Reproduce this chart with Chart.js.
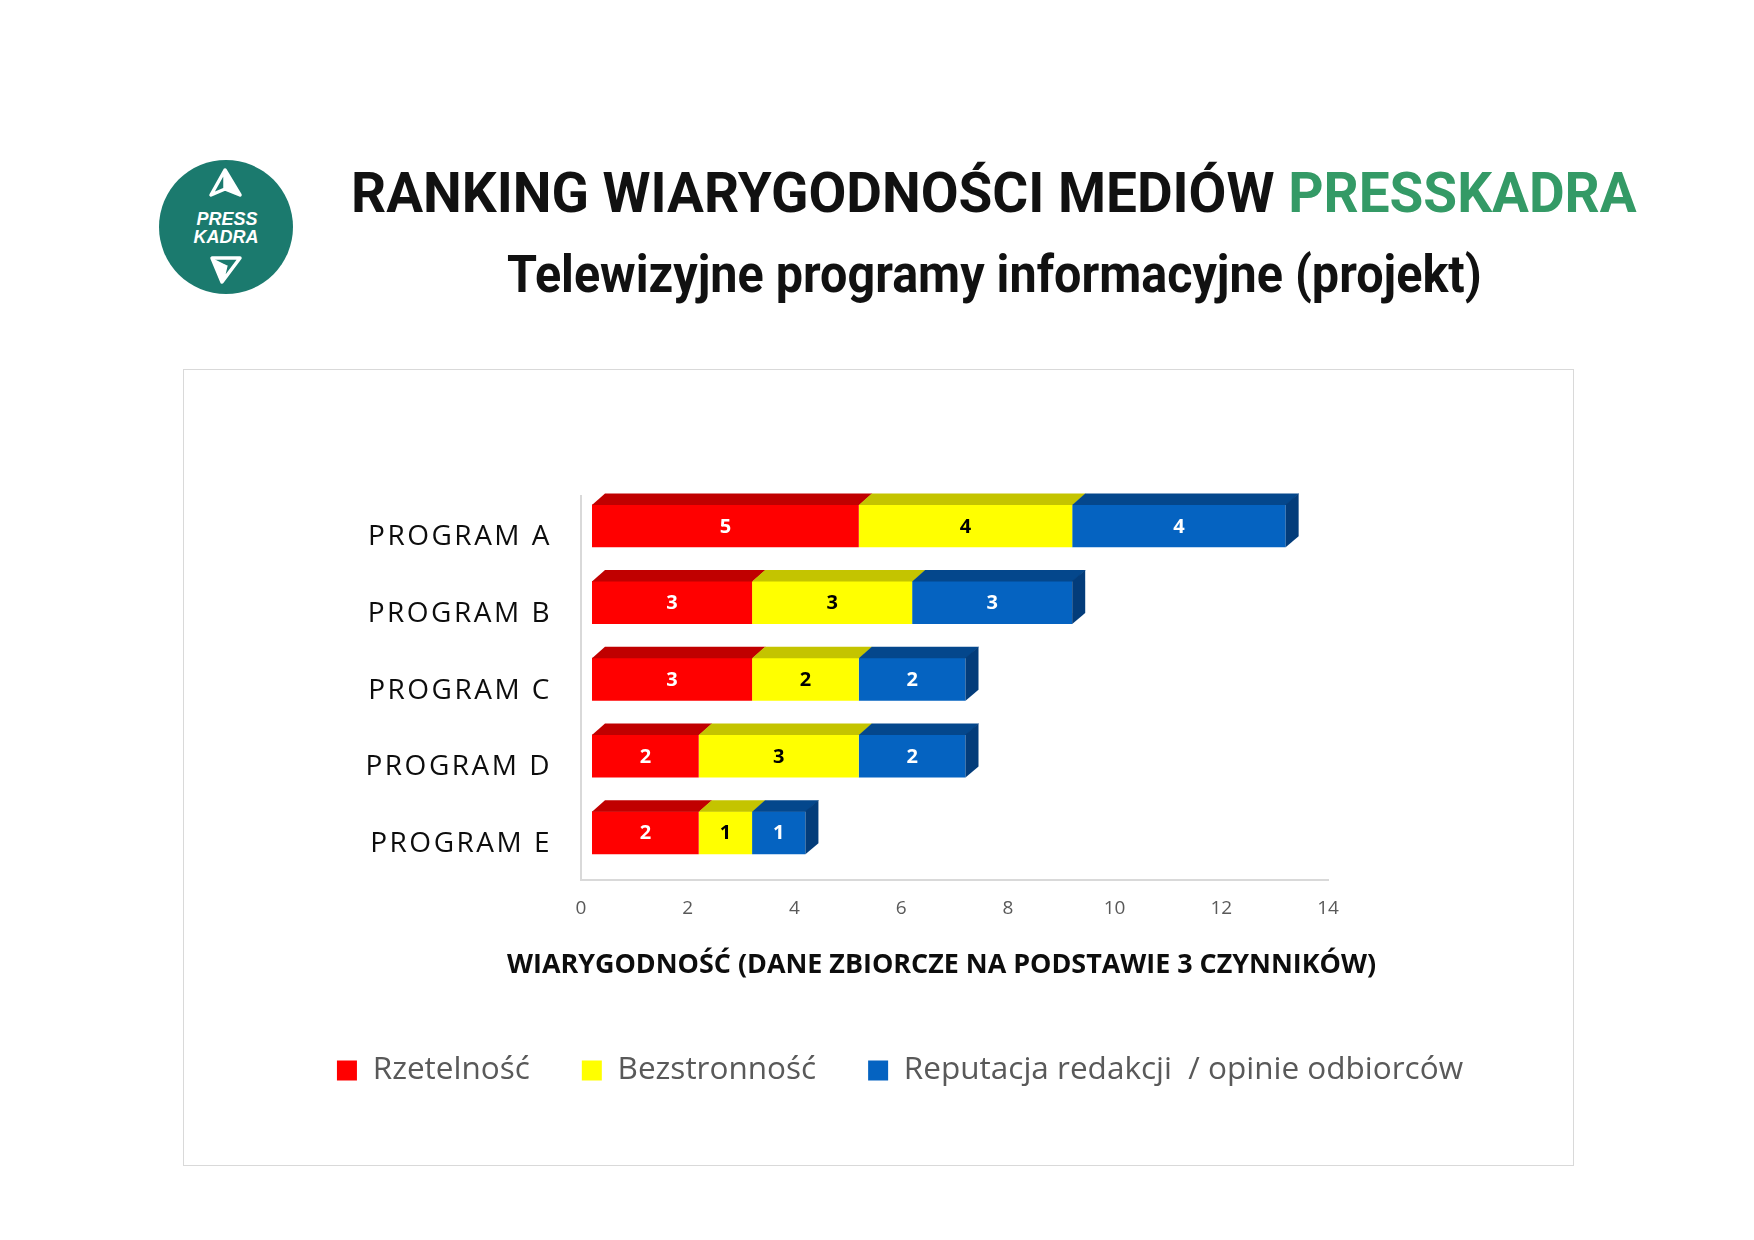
<!doctype html>
<html>

<head>
    <meta charset="utf-8">
    <title>Ranking wiarygodności mediów PRESSKADRA</title>
    <script src="https://cdn.jsdelivr.net/npm/chart.js"></script>
    <style>
        body {
            margin: 0;
            background-color: #fff;
            width: 1754px;
            height: 1240px;
            position: relative;
            overflow: hidden;
            font-family: 'Open Sans';
        }

        .head {
            position: absolute;
            font-family: Roboto;
            font-weight: 700;
            white-space: nowrap;
            color: #111;
            transform-origin: 0 0;
        }

        #title {
            left: 351px;
            top: 165px;
            font-size: 56px;
            line-height: 56px;
        }

        #title span {
            color: #349a66;
        }

        #subtitle {
            left: 507px;
            top: 249px;
            font-size: 51px;
            line-height: 51px;
        }

        #logo {
            position: absolute;
            left: 156px;
            top: 157px;
        }

        #box {
            position: absolute;
            left: 183px;
            top: 369px;
            width: 1391px;
            height: 797px;
            border: 1px solid #d9d9d9;
            box-sizing: border-box;
        }
    </style>
</head>

<body>
    <svg id="logo" width="140" height="140" viewBox="0 0 140 140">
        <circle cx="70" cy="70" r="67" fill="#1b7a6e" />
        <path d="M69 13 L55 38 L69 32 L84 38 Z M69 13 L69 32" fill="none" stroke="#fff" stroke-width="3.5" stroke-linejoin="round" />
        <path d="M69 13 L69 32 L84 38 Z" fill="#fff" />
        <path d="M56 101 L84 101 L66 125 Z M84 101 L66 125 L70 108" fill="none" stroke="#fff" stroke-width="3.5" stroke-linejoin="round" />
        <path d="M56 101 L70 108 L66 125 Z" fill="#fff" />
        <text x="71" y="68" text-anchor="middle" fill="#fff" font-family="Liberation Sans" font-weight="700" font-style="italic" font-size="18">PRESS</text>
        <text x="70" y="86" text-anchor="middle" fill="#fff" font-family="Liberation Sans" font-weight="700" font-style="italic" font-size="18">KADRA</text>
    </svg>
    <div id="title" class="head">RANKING WIARYGODNOŚCI MEDIÓW <span>PRESSKADRA</span></div>
    <div id="subtitle" class="head">Telewizyjne programy informacyjne (projekt)</div>
    <div id="box"><canvas id="chart"></canvas></div>

    <script>
        // squeeze the headings to the width they take in the original
        function fit(id, width) {
            const el = document.getElementById(id)
            el.style.transform = `scaleX(${width / el.offsetWidth})`
        }
        fit('title', 1286)
        fit('subtitle', 975)

        const categories = ['PROGRAM A', 'PROGRAM B', 'PROGRAM C', 'PROGRAM D', 'PROGRAM E']
        const rzetelnosc = [5, 3, 3, 2, 2]
        const bezstronnosc = [4, 3, 2, 3, 1]
        const reputacja = [4, 3, 2, 2, 1]
        const xTicks = [0, 2, 4, 6, 8, 10, 12, 14]

        const seriesNames = ['Rzetelność', 'Bezstronność', 'Reputacja redakcji  / opinie odbiorców']
        const xTitle = 'WIARYGODNOŚĆ (DANE ZBIORCZE NA PODSTAWIE 3 CZYNNIKÓW)'
        const frontColors = ['#ff0000', '#ffff00', '#0563c1']
        const topColors = ['#c00000', '#c4c400', '#04478c']
        const sideColors = ['#a00000', '#a6a600', '#033c7a']
        const labelColors = ['#fff', '#000', '#fff']

        // fake 3d: front faces are pushed up-right, then top and side faces are added
        const DX = 11, DY = -8.5
        const DEPTH_X = 13, DEPTH_Y = -11
        const TITLE_PAD = { top: 10.7, bottom: 20.65 }
        const TITLE_LH = 33

        const bars3d = {
            id: 'bars3d',
            beforeDatasetsDraw(chart) {
                chart.ctx.save()
                chart.ctx.translate(DX, DY)
            },
            afterDatasetsDraw(chart) {
                const ctx = chart.ctx
                ctx.restore()
                const metas = chart.getSortedVisibleDatasetMetas()
                categories.forEach((c, i) => {
                    let last = null
                    metas.forEach(meta => {
                        const { x, y, base, height } = meta.data[i].getProps(['x', 'y', 'base', 'height'], true)
                        const top = y - height / 2 + DY
                        const x0 = base + DX, x1 = x + DX
                        ctx.fillStyle = topColors[meta.index]
                        ctx.beginPath()
                        ctx.moveTo(x0, top + 0.5)
                        ctx.lineTo(x1 + 0.5, top + 0.5)
                        ctx.lineTo(x1 + DEPTH_X + 0.5, top + DEPTH_Y)
                        ctx.lineTo(x0 + DEPTH_X, top + DEPTH_Y)
                        ctx.closePath()
                        ctx.fill()
                        last = { x1, top, bottom: top + height, idx: meta.index }
                    })
                    ctx.fillStyle = sideColors[last.idx]
                    ctx.beginPath()
                    ctx.moveTo(last.x1, last.top)
                    ctx.lineTo(last.x1 + DEPTH_X, last.top + DEPTH_Y)
                    ctx.lineTo(last.x1 + DEPTH_X, last.bottom + DEPTH_Y)
                    ctx.lineTo(last.x1, last.bottom)
                    ctx.closePath()
                    ctx.fill()
                })

                // value labels
                ctx.save()
                ctx.font = 'bold 20px "Open Sans"'
                ctx.textAlign = 'center'
                ctx.textBaseline = 'middle'
                metas.forEach(meta => {
                    meta.data.forEach((el, i) => {
                        const { x, y, base } = el.getProps(['x', 'y', 'base'], true)
                        ctx.fillStyle = labelColors[meta.index]
                        ctx.fillText(chart.data.datasets[meta.index].data[i], (x + base) / 2 + DX, y + DY + 1)
                    })
                })
                ctx.restore()
            },
            afterDraw(chart) {
                const ctx = chart.ctx
                const yScale = chart.scales.y
                const xScale = chart.scales.x
                const area = chart.chartArea
                ctx.save()
                // category labels, spaced out like the original
                ctx.font = '28px "Open Sans"'
                ctx.letterSpacing = '2.5px'
                ctx.fillStyle = '#0d0d0d'
                ctx.textAlign = 'right'
                ctx.textBaseline = 'middle'
                categories.forEach((c, i) => {
                    ctx.fillText(c, area.left - 29, yScale.getPixelForTick(i) + 3)
                })
                // axis title: wider than the axis, so drawn here instead of by the scale
                ctx.letterSpacing = '0px'
                ctx.font = 'bold 27px "Open Sans"'
                ctx.textAlign = 'center'
                ctx.fillText(xTitle, (area.left + area.right) / 2 - 13, xScale.bottom - TITLE_PAD.bottom - TITLE_LH / 2, 869)
                ctx.restore()
            }
        }

        const series = [rzetelnosc, bezstronnosc, reputacja]

        new Chart(document.getElementById('chart'), {
            type: 'bar',
            data: {
                labels: categories,
                datasets: series.map((s, i) => ({
                    label: seriesNames[i],
                    data: s,
                    backgroundColor: frontColors[i],
                    borderWidth: 0,
                    barPercentage: 0.7,
                    categoryPercentage: 0.8,
                    clip: false
                }))
            },
            options: {
                indexAxis: 'y',
                responsive: true,
                maintainAspectRatio: false,
                animation: false,
                layout: {
                    padding: { top: 126, left: 60, right: 17, bottom: 68.75 }
                },
                scales: {
                    x: {
                        stacked: true,
                        min: 0,
                        max: 14,
                        afterBuildTicks: s => { s.ticks = xTicks.map(v => ({ value: v })) },
                        grid: { display: false, drawTicks: false },
                        border: { color: '#d9d9d9', width: 2 },
                        ticks: {
                            color: '#595959',
                            font: { family: 'Open Sans', size: 19 },
                            padding: 18,
                            maxRotation: 0
                        },
                        title: {
                            // keeps the room for the title, the text itself is drawn by the plugin
                            display: true,
                            text: xTitle,
                            color: 'rgba(0,0,0,0)',
                            font: { family: 'Open Sans', size: 27.5, weight: 'bold', lineHeight: TITLE_LH / 27.5 },
                            padding: TITLE_PAD
                        }
                    },
                    y: {
                        stacked: true,
                        ticks: { display: false },
                        grid: { display: false, drawTicks: false },
                        border: { color: '#d9d9d9', width: 2 },
                        afterFit: s => { s.width = 337 }
                    },
                    spacer: {
                        type: 'linear',
                        position: 'right',
                        min: 0,
                        max: 1,
                        ticks: { display: false },
                        grid: { display: false, drawTicks: false },
                        border: { display: false },
                        afterFit: s => { s.width = 228 }
                    }
                },
                plugins: {
                    legend: {
                        position: 'bottom',
                        labels: {
                            boxWidth: 20,
                            boxHeight: 20,
                            padding: 52,
                            color: '#595959',
                            font: { family: 'Open Sans', size: 31.5 }
                        }
                    },
                    tooltip: { enabled: false }
                }
            },
            plugins: [bars3d]
        })
    </script>
</body>

</html>
